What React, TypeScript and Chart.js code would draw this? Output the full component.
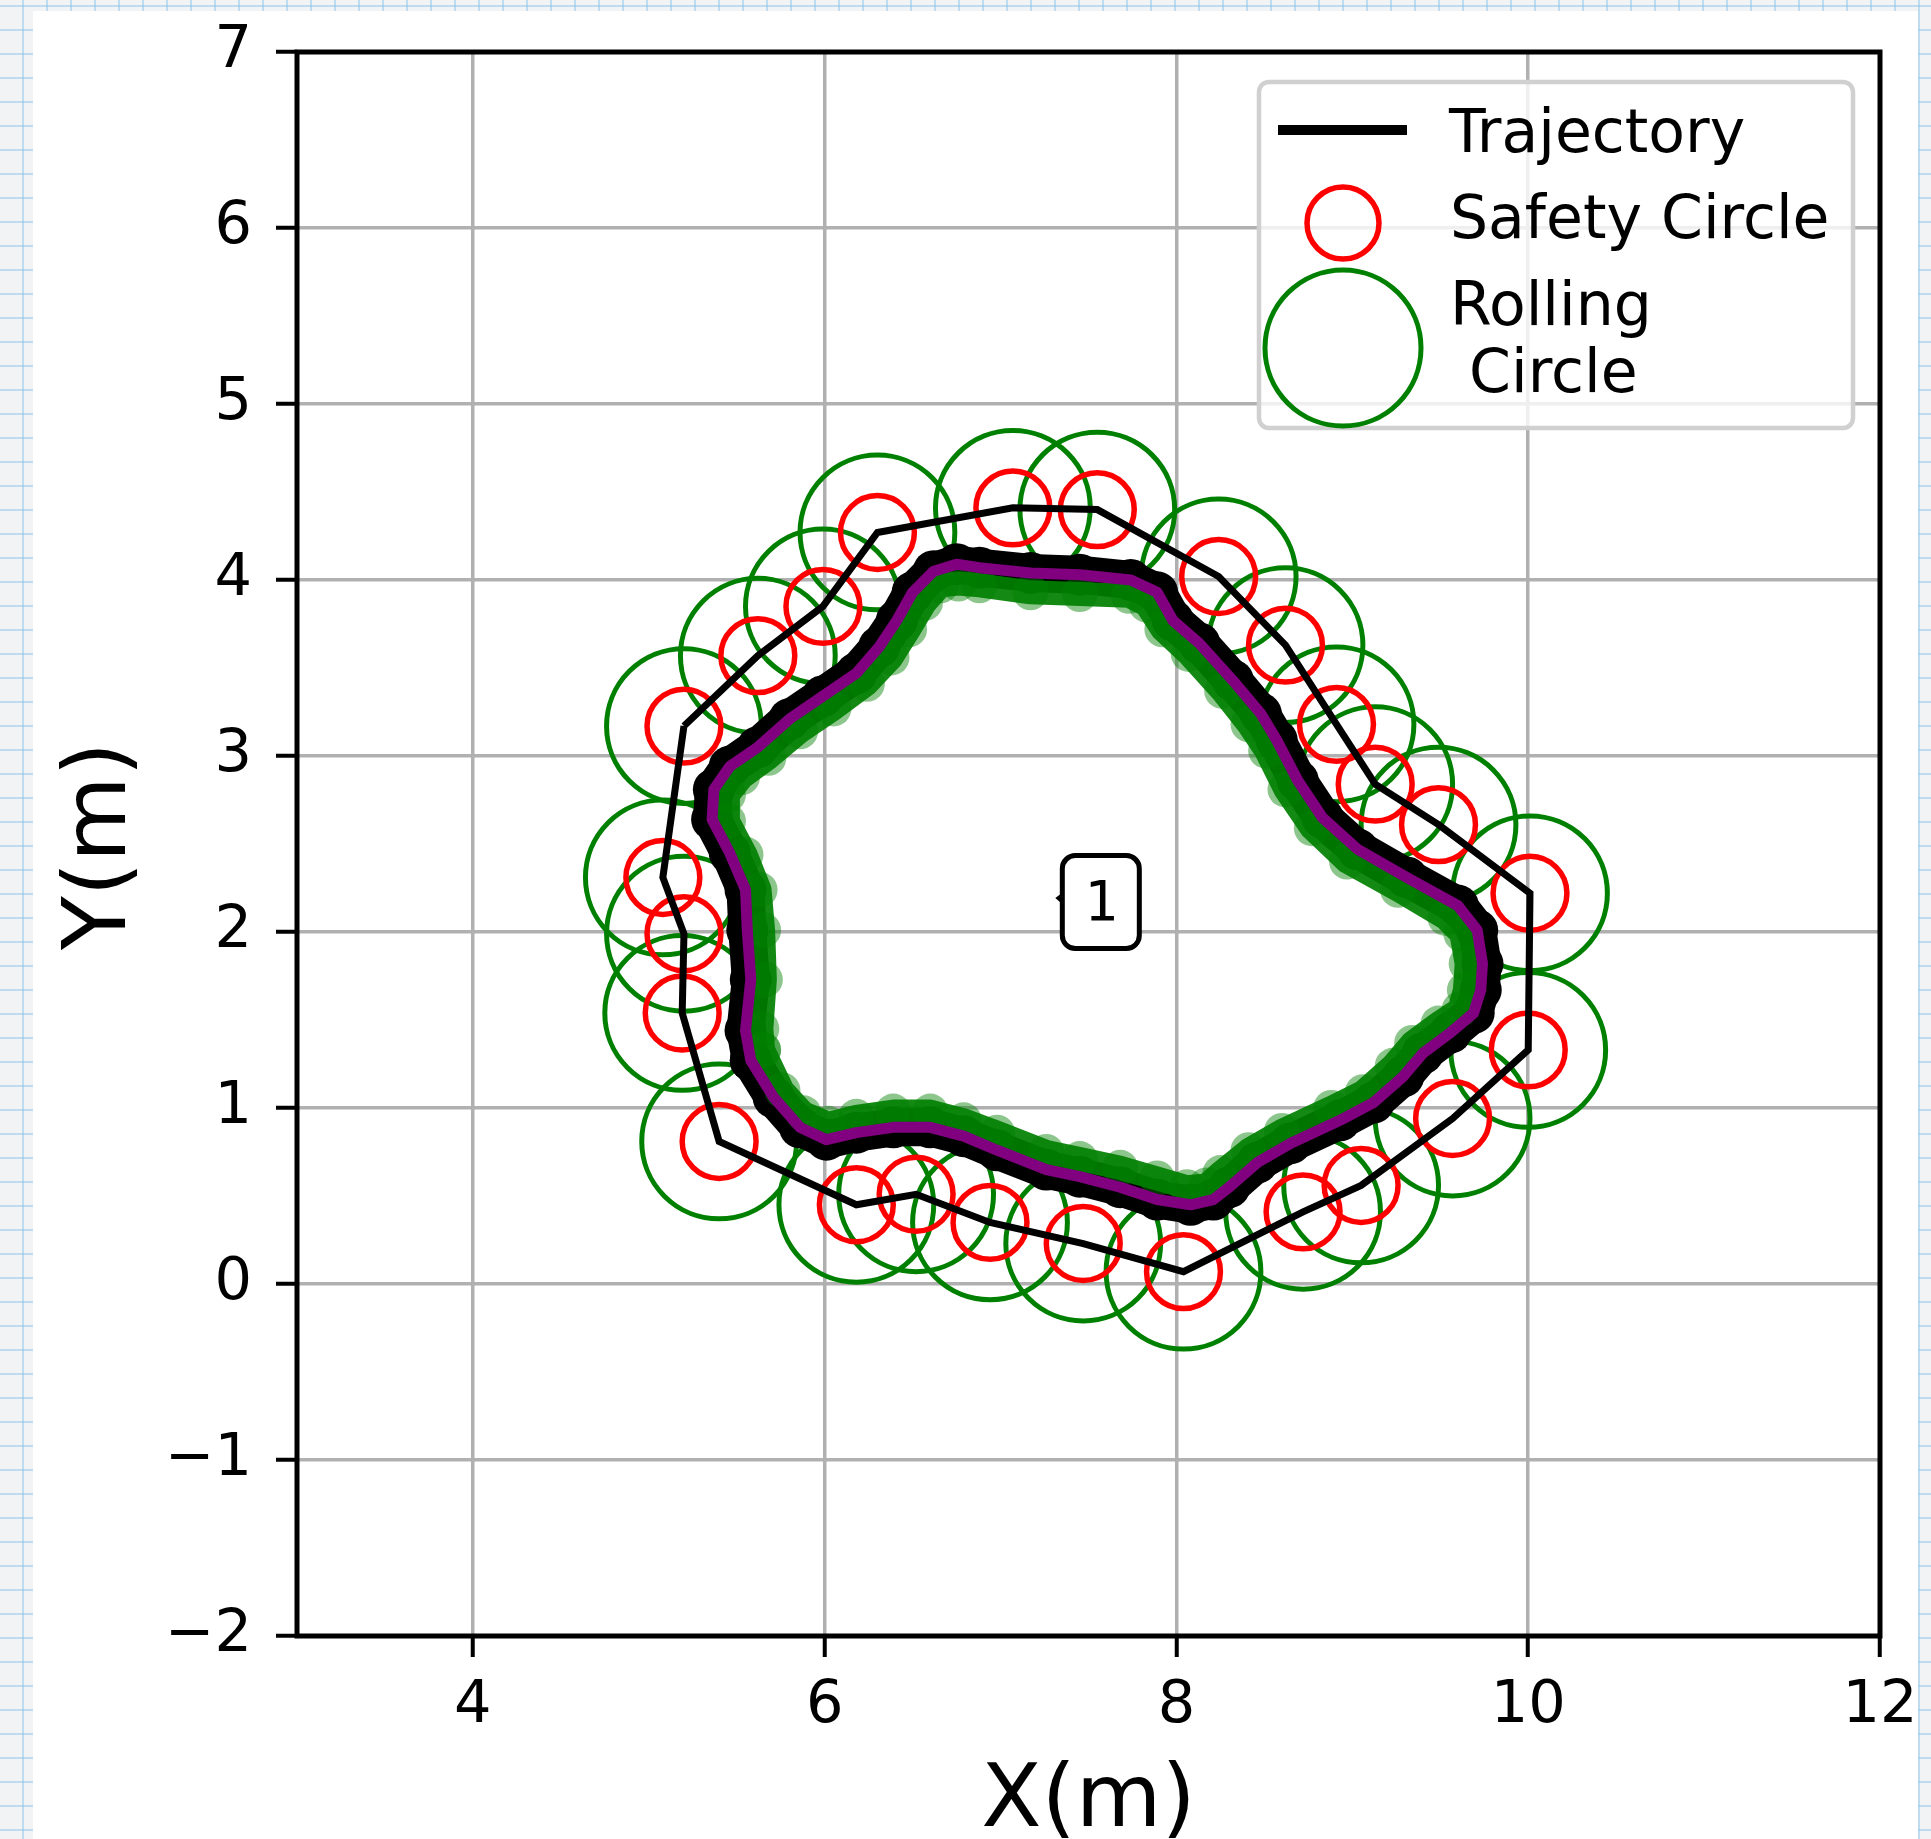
import React, { useEffect, useRef } from 'react';
import { Chart, registerables } from 'chart.js';

Chart.register(...registerables);

// ---------- data ----------
const X_TICKS = [4, 6, 8, 10, 12];
const Y_TICKS = [-2, -1, 0, 1, 2, 3, 4, 5, 6, 7];
const X_RANGE = [3, 12];
const Y_RANGE = [-2, 7];

// obstacle centres (trajectory passes through them, closed loop)
const OBSTACLE_X = [5.20, 5.08, 5.20, 5.19, 5.40, 6.18, 6.52, 6.94, 7.47, 8.04, 8.72, 9.05, 9.57, 10.00, 10.01, 9.49, 9.13, 8.91, 8.62, 8.24, 7.55, 7.07, 6.30, 5.99, 5.62];
const OBSTACLE_Y = [3.17, 2.31, 1.99, 1.54, 0.81, 0.45, 0.51, 0.35, 0.23, 0.07, 0.41, 0.56, 0.94, 1.33, 2.22, 2.61, 2.84, 3.18, 3.63, 4.02, 4.40, 4.41, 4.27, 3.85, 3.57];
const SAFETY_RADIUS = 0.21;
const ROLLING_RADIUS = 0.44;

// inner boundary path (purple / black)
const PATH_X = [5.58, 5.55, 5.58, 5.56, 5.55, 5.46, 5.36, 5.37, 5.46, 5.62, 5.80, 5.99, 6.18, 6.31, 6.41, 6.50, 6.62, 6.75, 6.88, 7.17, 7.45, 7.74, 7.89, 7.98, 8.13, 8.32, 8.48, 8.57, 8.69, 8.83, 9.03, 9.31, 9.60, 9.71, 9.74, 9.73, 9.69, 9.56, 9.40, 9.29, 9.12, 8.93, 8.65, 8.46, 8.30, 8.21, 8.08, 7.89, 7.68, 7.45, 7.26, 6.98, 6.79, 6.60, 6.39, 6.18, 6.01, 5.86, 5.71];
const PATH_Y = [1.27, 1.44, 1.73, 2.01, 2.24, 2.45, 2.64, 2.81, 2.94, 3.05, 3.21, 3.34, 3.47, 3.62, 3.77, 3.93, 4.05, 4.09, 4.07, 4.04, 4.03, 4.00, 3.93, 3.77, 3.64, 3.43, 3.24, 3.09, 2.86, 2.65, 2.47, 2.31, 2.15, 2.01, 1.82, 1.67, 1.54, 1.43, 1.31, 1.18, 1.03, 0.93, 0.80, 0.69, 0.55, 0.48, 0.45, 0.48, 0.55, 0.61, 0.65, 0.76, 0.84, 0.89, 0.89, 0.86, 0.82, 0.89, 1.06];

// green scattered samples (inner side)
const GREEN_X = [5.65, 5.64, 5.66, 5.65, 5.63, 5.55, 5.45, 5.45, 5.53, 5.68, 5.86, 6.05, 6.24, 6.38, 6.48, 6.57, 6.66, 6.76, 6.88, 7.17, 7.45, 7.73, 7.83, 7.92, 8.07, 8.26, 8.41, 8.51, 8.62, 8.77, 8.97, 9.26, 9.53, 9.62, 9.65, 9.64, 9.61, 9.49, 9.34, 9.23, 9.06, 8.88, 8.60, 8.41, 8.25, 8.17, 8.06, 7.89, 7.68, 7.45, 7.26, 6.98, 6.79, 6.60, 6.39, 6.18, 6.02, 5.88, 5.76];
const GREEN_Y = [1.33, 1.45, 1.73, 2.01, 2.24, 2.44, 2.63, 2.78, 2.88, 2.99, 3.14, 3.27, 3.41, 3.56, 3.72, 3.87, 3.97, 3.98, 3.97, 3.93, 3.92, 3.91, 3.86, 3.72, 3.58, 3.37, 3.18, 3.03, 2.81, 2.59, 2.40, 2.24, 2.08, 1.99, 1.82, 1.67, 1.56, 1.48, 1.37, 1.24, 1.09, 1.00, 0.87, 0.76, 0.63, 0.56, 0.55, 0.60, 0.66, 0.71, 0.75, 0.86, 0.93, 0.98, 0.98, 0.95, 0.91, 0.97, 1.10];

const LABEL_TEXT = ['1'];
const LABEL_X = [7.57];
const LABEL_Y = [2.17];

const SERIES_LABELS = ['Trajectory', 'Safety Circle', 'Rolling\n Circle'];
const AXIS_TITLES = ['X(m)', 'Y(m)'];

// ---------- helpers ----------
const pts = (xs: number[], ys: number[], close = false) => {
  const out = xs.map((x, i) => ({ x, y: ys[i] }));
  if (close) out.push({ x: xs[0], y: ys[0] });
  return out;
};

const radiusPx = (r: number) => (ctx: any) => {
  const s = ctx.chart.scales.x;
  if (!s) return 0;
  return Math.abs(s.getPixelForValue(r) - s.getPixelForValue(0));
};

const rr = (ctx: CanvasRenderingContext2D, x: number, y: number, w: number, h: number, r: number) => {
  ctx.beginPath();
  ctx.moveTo(x + r, y);
  ctx.lineTo(x + w - r, y);
  ctx.arcTo(x + w, y, x + w, y + r, r);
  ctx.lineTo(x + w, y + h - r);
  ctx.arcTo(x + w, y + h, x + w - r, y + h, r);
  ctx.lineTo(x + r, y + h);
  ctx.arcTo(x, y + h, x, y + h - r, r);
  ctx.lineTo(x, y + r);
  ctx.arcTo(x, y, x + r, y, r);
  ctx.closePath();
};

const FONT = '"DejaVu Sans", "Liberation Sans", sans-serif';

const decorPlugin = {
  id: 'decor',
  beforeDatasetsDraw(chart: any) {
    const { ctx, chartArea: a } = chart;
    ctx.save();
    ctx.strokeStyle = '#000';
    ctx.lineWidth = 5;
    ctx.strokeRect(a.left, a.top, a.right - a.left, a.bottom - a.top);
    ctx.restore();
  },
  afterDraw(chart: any) {
    const { ctx, chartArea: a } = chart;
    const xs = chart.scales.x;
    const ys = chart.scales.y;
    ctx.save();

    // annotation boxes
    LABEL_TEXT.forEach((t, i) => {
      const cx = xs.getPixelForValue(LABEL_X[i]);
      const cy = ys.getPixelForValue(LABEL_Y[i]);
      const w = 77, h = 93;
      rr(ctx, cx - w / 2, cy - h / 2, w, h, 13);
      ctx.fillStyle = '#fff';
      ctx.fill();
      ctx.lineWidth = 5;
      ctx.strokeStyle = '#000';
      ctx.stroke();
      ctx.beginPath();
      ctx.moveTo(cx - w / 2 - 7, cy - 4);
      ctx.lineTo(cx - w / 2 + 1, cy - 10);
      ctx.lineTo(cx - w / 2 + 1, cy + 3);
      ctx.closePath();
      ctx.fillStyle = '#000';
      ctx.fill();
      ctx.font = '56px "DejaVu Sans Mono", monospace';
      ctx.textAlign = 'center';
      ctx.textBaseline = 'alphabetic';
      ctx.fillText(t, cx, cy + 18);
    });

    // legend
    const lx = 1259, ly = 82, lw = 594, lh = 346;
    rr(ctx, lx, ly, lw, lh, 10);
    ctx.fillStyle = 'rgba(255,255,255,0.8)';
    ctx.fill();
    ctx.strokeStyle = '#d0d0d0';
    ctx.lineWidth = 4.5;
    ctx.stroke();

    ctx.strokeStyle = '#000';
    ctx.lineWidth = 10;
    ctx.lineCap = 'butt';
    ctx.beginPath();
    ctx.moveTo(1278, 130);
    ctx.lineTo(1407, 130);
    ctx.stroke();

    ctx.strokeStyle = '#ff0000';
    ctx.lineWidth = 5.5;
    ctx.beginPath();
    ctx.arc(1343, 223, 36, 0, Math.PI * 2);
    ctx.stroke();

    ctx.strokeStyle = '#008000';
    ctx.lineWidth = 5;
    ctx.beginPath();
    ctx.arc(1343, 348, 78, 0, Math.PI * 2);
    ctx.stroke();

    ctx.fillStyle = '#000';
    ctx.font = `60px ${FONT}`;
    ctx.textAlign = 'left';
    ctx.textBaseline = 'alphabetic';
    ctx.fillText(SERIES_LABELS[0], 1449, 152);
    ctx.fillText(SERIES_LABELS[1], 1450, 238);
    const rl = SERIES_LABELS[2].split('\n');
    ctx.fillText(rl[0], 1450, 325);
    ctx.fillText(rl[1], 1450, 392);

    // axis titles
    ctx.font = `88px ${FONT}`;
    ctx.textAlign = 'center';
    ctx.textBaseline = 'alphabetic';
    ctx.fillText(AXIS_TITLES[0], (a.left + a.right) / 2, a.bottom + 190);
    ctx.save();
    ctx.translate(a.left - 172, (a.top + a.bottom) / 2 + 2);
    ctx.rotate(-Math.PI / 2);
    ctx.fillText(AXIS_TITLES[1], 0, 0);
    ctx.restore();

    ctx.restore();
  },
};

export default function App() {
  const ref = useRef<HTMLCanvasElement | null>(null);

  useEffect(() => {
    if (!ref.current) return;
    const chart = new Chart(ref.current, {
      type: 'scatter',
      data: {
        datasets: [
          {
            label: 'path',
            data: pts(PATH_X, PATH_Y, true),
            showLine: true,
            borderColor: '#800080',
            borderWidth: 11,
            pointRadius: 0,
            borderJoinStyle: 'round',
            borderCapStyle: 'round',
            order: 0,
          } as any,
          {
            label: SERIES_LABELS[0],
            data: pts(OBSTACLE_X, OBSTACLE_Y, true),
            showLine: true,
            borderColor: '#000',
            borderWidth: 7,
            pointRadius: 0,
            borderJoinStyle: 'miter',
            order: 1,
          } as any,
          {
            label: 'samples',
            data: pts(GREEN_X, GREEN_Y, true),
            showLine: true,
            borderColor: 'rgba(0,128,0,0.92)',
            borderWidth: 24,
            borderJoinStyle: 'round',
            borderCapStyle: 'round',
            pointRadius: 18,
            pointBorderWidth: 0,
            pointBackgroundColor: 'rgba(0,128,0,0.45)',
            order: 2,
          } as any,
          {
            label: 'boundary',
            data: pts(PATH_X, PATH_Y, true),
            showLine: true,
            borderColor: '#000',
            borderWidth: 38,
            borderJoinStyle: 'round',
            borderCapStyle: 'round',
            pointRadius: 21,
            pointBorderWidth: 0,
            pointBackgroundColor: '#000',
            order: 3,
          } as any,
          {
            label: SERIES_LABELS[1],
            data: pts(OBSTACLE_X, OBSTACLE_Y),
            pointStyle: 'circle',
            pointRadius: radiusPx(SAFETY_RADIUS),
            pointBorderColor: '#ff0000',
            pointBackgroundColor: 'rgba(0,0,0,0)',
            pointBorderWidth: 5.5,
            order: 4,
          } as any,
          {
            label: SERIES_LABELS[2],
            data: pts(OBSTACLE_X, OBSTACLE_Y),
            pointStyle: 'circle',
            pointRadius: radiusPx(ROLLING_RADIUS),
            pointBorderColor: '#008000',
            pointBackgroundColor: 'rgba(0,0,0,0)',
            pointBorderWidth: 5,
            order: 5,
          } as any,
        ],
      },
      options: {
        responsive: false,
        animation: false,
        events: [],
        layout: { padding: { top: 52, right: 51, left: 0, bottom: 0 } },
        plugins: { legend: { display: false }, tooltip: { enabled: false } },
        scales: {
          x: {
            type: 'linear',
            min: X_RANGE[0],
            max: X_RANGE[1],
            afterBuildTicks: (s: any) => { s.ticks = X_TICKS.map((v) => ({ value: v })); },
            afterFit: (s: any) => { s.height = 203; s.paddingLeft = 0; s.paddingRight = 0; },
            grid: { color: '#b0b0b0', lineWidth: 3.5, tickColor: '#000', tickWidth: 4, tickLength: 21 },
            border: { display: false },
            ticks: {
              font: { family: FONT, size: 59 },
              color: '#000',
              padding: 14,
              maxRotation: 0,
              autoSkip: false,
              callback: (v: any) => String(v),
            },
          },
          y: {
            type: 'linear',
            min: Y_RANGE[0],
            max: Y_RANGE[1],
            afterBuildTicks: (s: any) => { s.ticks = Y_TICKS.map((v) => ({ value: v })); },
            afterFit: (s: any) => { s.width = 297; s.paddingTop = 0; s.paddingBottom = 0; },
            grid: { color: '#b0b0b0', lineWidth: 3.5, tickColor: '#000', tickWidth: 4, tickLength: 21 },
            border: { display: false },
            ticks: {
              font: { family: FONT, size: 59 },
              color: '#000',
              padding: 24,
              autoSkip: false,
              callback: (v: any) => (v < 0 ? '\u2212' + Math.abs(v) : String(v)),
            },
          },
        },
      } as any,
      plugins: [decorPlugin],
    });
    return () => chart.destroy();
  }, []);

  return (
    <div
      style={{
        position: 'fixed',
        left: 0,
        top: 0,
        width: 1931,
        height: 1839,
        overflow: 'hidden',
        backgroundColor: '#f1f3f4',
        backgroundImage:
          'linear-gradient(to right, rgba(140,195,235,0.5) 2px, transparent 2px), linear-gradient(to bottom, rgba(140,195,235,0.5) 2px, transparent 2px)',
        backgroundSize: '24px 24px',
        backgroundPosition: '22px 5px',
      }}
    >
      <div style={{ position: 'absolute', left: 33, top: 11, width: 1885, height: 1828, background: '#fff' }} />
      <canvas
        ref={ref}
        width={1931}
        height={1839}
        style={{ position: 'absolute', left: 0, top: 0, width: 1931, height: 1839 }}
      />
    </div>
  );
}
